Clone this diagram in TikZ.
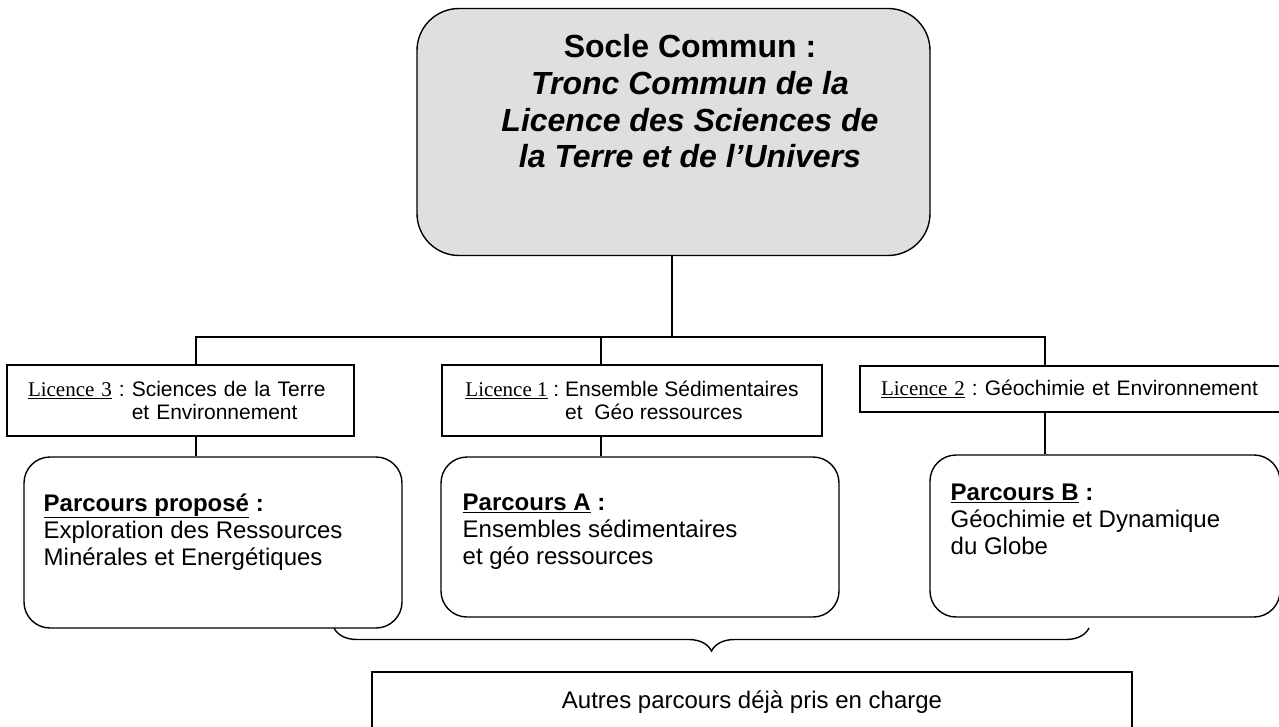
\documentclass[tikz,border=0pt]{standalone}
\usepackage{fontspec}
\setmainfont{Liberation Sans}
\newfontfamily\tnr{Liberation Serif}
\usetikzlibrary{positioning,decorations.pathreplacing}
\frenchspacing

\begin{document}
\begin{tikzpicture}[x=1pt, y=-1pt, line width=1.4pt,
        boite/.style = {draw, rectangle, inner sep=0pt},
        arrondi/.style = {draw, rectangle, rounded corners=26pt, inner sep=0pt},
        licence/.style = {boite, inner xsep=21pt, font=\fontsize{21}{23.5}\selectfont, align=left},
        parcours/.style = {anchor=north west, inner sep=0pt, align=left, font=\fontsize{24}{27}\selectfont}]
           \useasboundingbox (0,0) rectangle (1279,727);
           \node [boite, rounded corners=42pt, fill=gray!25, minimum width=513pt, minimum height=247pt] (socle) at (673.5,132) {};
           \node [anchor=north, inner sep=0pt, align=center, font=\fontsize{32}{36.7}\selectfont\bfseries] (soclet) at (690,34)
                {Socle Commun :\\ \textit{Tronc Commun de la}\\ \textit{Licence des Sciences de}\\ \textit{la Terre et de l’Univers}};
           \node [licence, text width=305pt, minimum height=71pt] (lic3) at (180.5,400.5)
                {\underline{\tnr Licence 3} : Sciences de la Terre\\ \hphantom{{\tnr Licence 3} : }et Environnement};
           \node [licence, inner xsep=0pt, minimum width=380pt, minimum height=71pt] (lic1) at (632,400.5)
                {\underline{\tnr Licence 1} : Ensemble Sédimentaires\\ \hphantom{{\tnr Licence 1} : }et~ Géo ressources};
           \node [licence, text width=379pt, minimum height=46pt] (lic2) at (1070.5,389)
                {\underline{\tnr Licence 2} : Géochimie et Environnement};
           \node [arrondi, minimum width=378pt, minimum height=171pt] (parc3) at (213,542.5) {};
           \node [arrondi, minimum width=398pt, minimum height=160pt] (parcA) at (640,537) {};
           \node [arrondi, minimum width=350pt, minimum height=162pt] (parcB) at (1105,536) {};
           \node [parcours] (parc3t) at (43,493)
                {\underline{\textbf{Parcours proposé}}\textbf{ :}\\ Exploration des Ressources\\ Minérales et Energétiques};
           \node [parcours] (parcAt) at (462,493)
                {\underline{\textbf{Parcours A}}\textbf{ :}\\ Ensembles sédimentaires\\ et géo ressources};
           \node [parcours] (parcBt) at (950,483)
                {\underline{\textbf{Parcours B}}\textbf{ :}\\ Géochimie et Dynamique\\ du Globe};
           \node [boite, minimum width=760pt, minimum height=60pt, font=\fontsize{24}{27}\selectfont] (autres) at (752,702)
                {Autres parcours déjà pris en charge};
           \coordinate (bus) at (672,337);
           \coordinate (b3) at (196,337);
           \coordinate (b1) at (601,337);
           \coordinate (b2) at (1045,337);
           \coordinate (acc1) at (334,628);
           \coordinate (acc2) at (1089,628);
           \draw (socle.south -| bus) -- (bus);
           \draw (lic3.north -| b3) -- (b3) -- (b2) -- (lic2.north -| b2);
           \draw (b1) -- (lic1.north -| b1);
           \draw (lic3.south -| b3) -- (parc3.north -| b3);
           \draw (lic1.south -| b1) -- (parcA.north -| b1);
           \draw (lic2.south -| b2) -- (parcB.north -| b2);
           \draw [decorate, decoration={brace, mirror, amplitude=23pt}] (acc1) -- (acc2);
      \end{tikzpicture}
\end{document}
